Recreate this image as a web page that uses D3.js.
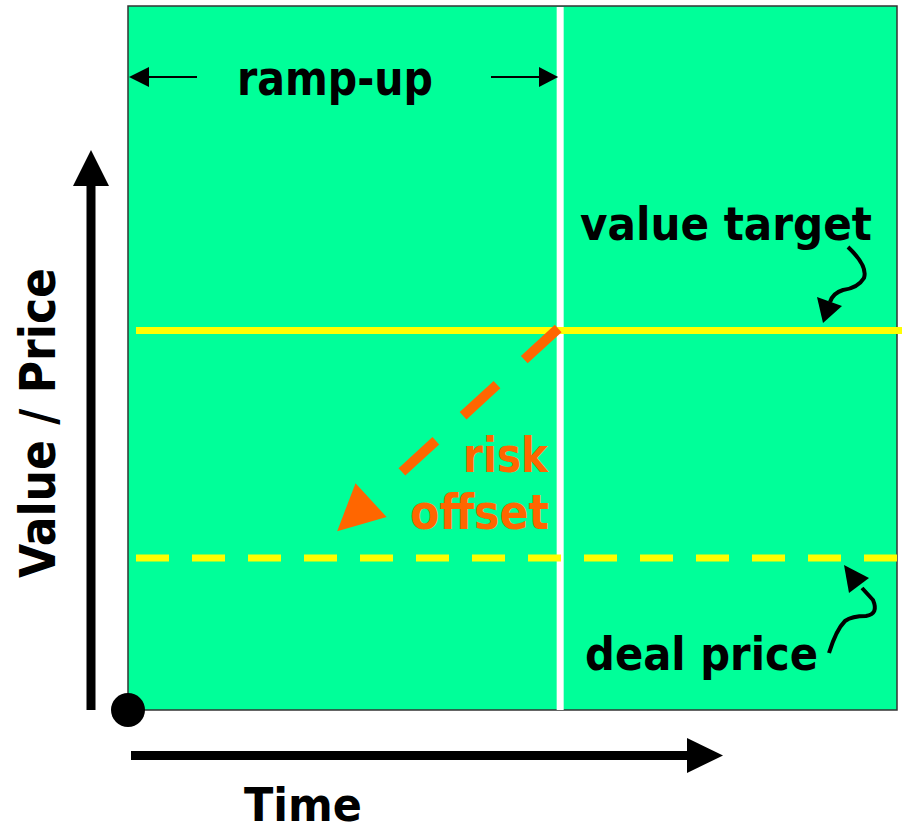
<!DOCTYPE html>
<html>
<head>
<meta charset="utf-8">
<script src="https://cdn.jsdelivr.net/npm/d3@7"></script>
<style>
  html, body { margin: 0; padding: 0; background: #fff; }
  svg { display: block; }
  text { font-family: "DejaVu Sans", Verdana, sans-serif; font-weight: bold; }
</style>
</head>
<body>
<div id="chart"></div>
<script>
// ---- data ----
const timeDomain = [0, 100];
const valueDomain = [0, 100];
const rampUpEnd = [56.2];                       // end of ramp-up period (time)
const levelNames = ["value target", "deal price"];
const levelValues = [53.9, 21.6];               // value / price levels
const levelDashed = [false, true];
const riskOffsetFrom = [56.2, 53.9];            // [time, value]
const riskOffsetTo = [27.2, 25.4];              // [time, value]
const axisTitles = ["Time", "Value / Price"];
const annotationTexts = ["ramp-up", "risk", "offset"];

// ---- setup ----
const W = 902, H = 833;
const svg = d3.select("#chart").append("svg").attr("width", W).attr("height", H);

const x = d3.scaleLinear().domain(timeDomain).range([128, 897]);
const y = d3.scaleLinear().domain(valueDomain).range([710, 6]);

// plot background
svg.append("rect")
  .attr("x", x(timeDomain[0])).attr("y", y(valueDomain[1]))
  .attr("width", x(timeDomain[1]) - x(timeDomain[0]))
  .attr("height", y(valueDomain[0]) - y(valueDomain[1]))
  .attr("fill", "#00ff99")
  .attr("stroke", "#333").attr("stroke-width", 1.5);

// ramp-up boundary
svg.selectAll("line.ramp").data(rampUpEnd).join("line")
  .attr("class", "ramp")
  .attr("x1", d => x(d)).attr("x2", d => x(d))
  .attr("y1", y(valueDomain[1]) + 1).attr("y2", y(valueDomain[0]))
  .attr("stroke", "#fff").attr("stroke-width", 7);

// level lines
svg.selectAll("line.level").data(levelValues).join("line")
  .attr("class", "level")
  .attr("x1", x(timeDomain[0]) + 8)
  .attr("x2", (d, i) => levelDashed[i] ? x(timeDomain[1]) : W)
  .attr("y1", d => y(d)).attr("y2", d => y(d))
  .attr("stroke", "#ffff00")
  .attr("stroke-width", 7)
  .attr("stroke-dasharray", (d, i) => levelDashed[i] ? "33 23" : null);

// risk offset dashed arrow
{
  const x0 = x(riskOffsetFrom[0]) - 2, y0 = y(riskOffsetFrom[1]) - 2;
  const x1 = x(riskOffsetTo[0]), y1 = y(riskOffsetTo[1]);
  const dx = x1 - x0, dy = y1 - y0, len = Math.hypot(dx, dy);
  const ux = dx / len, uy = dy / len;
  const headLen = 46, headW = 46;
  const bx = x1 - ux * headLen, by = y1 - uy * headLen;
  svg.append("line")
    .attr("x1", x0).attr("y1", y0)
    .attr("x2", x0 + ux * 212).attr("y2", y0 + uy * 212)
    .attr("stroke", "#ff6600").attr("stroke-width", 10)
    .attr("stroke-dasharray", "46 37");
  const px = -uy, py = ux;
  svg.append("polygon")
    .attr("points", [
      [x1, y1],
      [bx + px * headW / 2, by + py * headW / 2],
      [bx - px * headW / 2, by - py * headW / 2]
    ].map(p => p.join(",")).join(" "))
    .attr("fill", "#ff6600");
}

// ramp-up arrows
const rampY = 77;
svg.append("line").attr("x1", 146).attr("x2", 197).attr("y1", rampY).attr("y2", rampY)
  .attr("stroke", "#000").attr("stroke-width", 2);
svg.append("polygon").attr("points", `${x(0) + 1},${rampY} 149,${rampY - 10} 149,${rampY + 10}`).attr("fill", "#000");
svg.append("line").attr("x1", 491).attr("x2", 542).attr("y1", rampY).attr("y2", rampY)
  .attr("stroke", "#000").attr("stroke-width", 2);
svg.append("polygon").attr("points", `${x(rampUpEnd[0]) - 2},${rampY} 539,${rampY - 10} 539,${rampY + 10}`).attr("fill", "#000");

// texts
function addText(str, xs, yb, size, len, color) {
  return svg.append("text")
    .attr("x", xs).attr("y", yb)
    .attr("font-size", size)
    .attr("fill", color || "#000")
    .attr("textLength", len)
    .attr("lengthAdjust", "spacingAndGlyphs")
    .text(str);
}
addText(annotationTexts[0], 237, 95, 48, 196);
addText(levelNames[0], 580, 240, 46, 292);
addText(levelNames[1], 585, 670, 46, 233);
addText(annotationTexts[1], 463, 472, 48, 85, "#ff6600");
addText(annotationTexts[2], 410, 529, 48, 139, "#ff6600");
addText(axisTitles[0], 244, 821, 47, 118);

svg.append("text")
  .attr("transform", "translate(55,423) rotate(-90)")
  .attr("text-anchor", "middle")
  .attr("font-size", 50)
  .attr("textLength", 310)
  .attr("lengthAdjust", "spacingAndGlyphs")
  .attr("fill", "#000")
  .text(axisTitles[1]);

// curvy pointer arrows
svg.append("path")
  .attr("d", "M848,247 Q868,266 864,278 Q858,288 843,290 Q833,293 830,302")
  .attr("fill", "none").attr("stroke", "#000").attr("stroke-width", 4);
svg.append("polygon").attr("points", "823,323 817,297 842,306").attr("fill", "#000");

svg.append("path")
  .attr("d", "M829,653 Q836,630 845,621 Q852,616 866,616 Q879,614 873,600 L862,588")
  .attr("fill", "none").attr("stroke", "#000").attr("stroke-width", 4);
svg.append("polygon").attr("points", "844,565 849,593 869,578").attr("fill", "#000");

// axes arrows
svg.append("line").attr("x1", 91).attr("x2", 91).attr("y1", y(0)).attr("y2", 183)
  .attr("stroke", "#000").attr("stroke-width", 9);
svg.append("polygon").attr("points", "91,150 73,186 109,186").attr("fill", "#000");

svg.append("line").attr("x1", 131).attr("x2", 690).attr("y1", 755.5).attr("y2", 755.5)
  .attr("stroke", "#000").attr("stroke-width", 9);
svg.append("polygon").attr("points", "723,755.5 687,738 687,773").attr("fill", "#000");

// origin dot
svg.append("circle").attr("cx", x(0)).attr("cy", y(0)).attr("r", 17).attr("fill", "#000");
</script>
</body>
</html>
